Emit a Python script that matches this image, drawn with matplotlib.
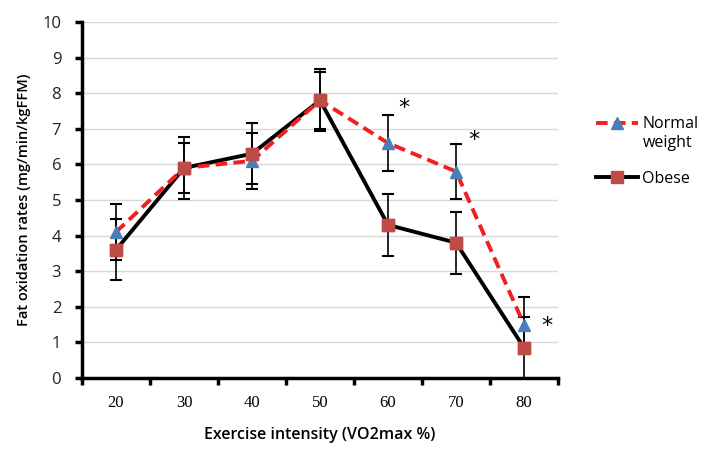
import matplotlib
matplotlib.use("Agg")
import matplotlib.pyplot as plt
import numpy as np

categories = ["20", "30", "40", "50", "60", "70", "80"]
normal = [4.1, 5.9, 6.1, 7.8, 6.6, 5.8, 1.5]
normal_err = [0.78, 0.7, 0.78, 0.8, 0.78, 0.78, 0.78]
obese = [3.6, 5.9, 6.3, 7.8, 4.3, 3.8, 0.85]
obese_err = [0.86, 0.87, 0.85, 0.87, 0.87, 0.87, 0.87]
star_idx = [4, 5, 6]

fig = plt.figure(figsize=(7.05, 4.53), dpi=100)
ax = fig.add_axes([0.1163, 0.1656, 0.7915 - 0.1163, 0.9514 - 0.1656])
x = np.arange(len(categories))

ax.errorbar(x, obese, yerr=obese_err, fmt="none", ecolor="black", elinewidth=1.2,
            capsize=4, capthick=1.5, zorder=3)
ax.errorbar(x, normal, yerr=normal_err, fmt="none", ecolor="black", elinewidth=1.2,
            capsize=4, capthick=1.5, zorder=3)
ln_o, = ax.plot(x, obese, color="black", lw=2.8, marker="s", ms=8,
                mfc="#be4b48", mec="#be4b48", zorder=4, label="Obese")
ln_n, = ax.plot(x, normal, color="#f02020", lw=2.8, ls=(0, (3, 1.6)), marker="^", ms=8,
                mfc="#4a7ebb", mec="#4a7ebb", zorder=5, label="Normal")
ax.plot(x, obese, ls="none", marker="s", ms=8, mfc="#be4b48", mec="#be4b48", zorder=6)

star_pos = {4: (0.24, 7.58), 5: (0.26, 6.68), 6: (0.34, 1.45)}
for i in star_idx:
    dx, yy = star_pos[i]
    ax.text(x[i] + dx, yy, "*", fontsize=16, ha="center", va="center", family="DejaVu Sans")

ax.set_xlim(-0.5, len(categories) - 0.5)
ax.set_ylim(0, 10)
ax.set_yticks(np.arange(0, 11, 1))
ax.yaxis.grid(True, color="#d9d9d9", lw=1)
ax.set_axisbelow(True)
for s in ["top", "right"]:
    ax.spines[s].set_visible(False)
for s in ["left", "bottom"]:
    ax.spines[s].set_linewidth(2.5)

ax.set_xticks(np.arange(-0.5, len(categories), 1.0))
ax.set_xticklabels([])
ax.set_xticks(x, minor=True)
ax.set_xticklabels(categories, minor=True, family="Liberation Serif", fontsize=12)
ax.tick_params(axis="x", which="major", length=5, width=2.5, direction="out")
ax.tick_params(axis="x", which="minor", length=0, pad=12)
ax.tick_params(axis="y", length=5, width=2.5, direction="out", pad=10)
for t in ax.get_yticklabels():
    t.set_family("Open Sans")
    t.set_fontsize(12)
    t.set_color("#222222")

ax.set_xlabel("Exercise intensity (VO2max %)", family="Open Sans", fontsize=11.5,
              fontweight="semibold", labelpad=12)
ax.set_ylabel("Fat oxidation rates (mg/min/kgFFM)", family="Open Sans", fontsize=10.5,
              fontweight="semibold", labelpad=8)

leg = fig.legend(handles=[ln_n, ln_o], loc="upper left", bbox_to_anchor=(0.825, 0.775),
                 frameon=False, prop={"family": "Open Sans", "size": 11.5},
                 handlelength=2.6, handletextpad=0.3, labelspacing=2.4)

fig.canvas.draw()
tb = leg.get_texts()[0].get_window_extent()
inv = fig.transFigure.inverted()
x0, y0 = inv.transform((tb.x0, tb.y0))
fig.text(x0, y0 - 0.005, "weight", family="Open Sans", fontsize=11.5, ha="left", va="top")

fig.savefig("out.png", dpi=100)
